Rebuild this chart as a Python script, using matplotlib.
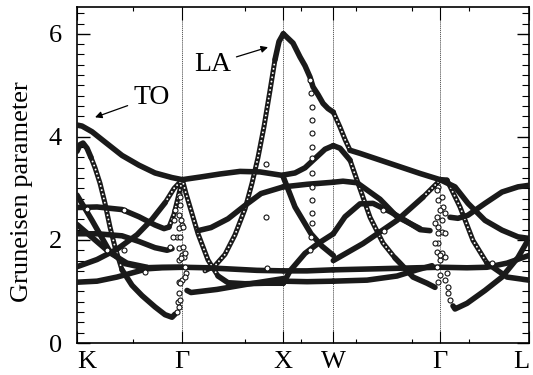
import matplotlib
matplotlib.use("Agg")
import matplotlib.pyplot as plt

plt.rcParams['font.family'] = ['Liberation Serif', 'DejaVu Serif']

# positions of the high-symmetry points along the path
sym_labels = ['K', 'Γ', 'X', 'W', 'Γ', 'L']
sym_pos = [0.0, 1.053, 2.063, 2.563, 3.630, 4.520]
minor_pos = [0.56, 1.68, 2.24, 2.79, 3.35, 3.92]

# --- K -> Gamma ---
kg_to_x = [0, 0.05, 0.15, 0.28, 0.45, 0.62, 0.78, 0.95, 1.053]
kg_to_y = [4.23, 4.21, 4.10, 3.90, 3.64, 3.45, 3.30, 3.21, 3.17]
kg_b_top_x = [0, 0.03, 0.06, 0.10, 0.14]
kg_b_top_y = [3.72, 3.85, 3.88, 3.78, 3.60]
kg_b_fall_x = [0.14, 0.18, 0.23, 0.28, 0.33, 0.38, 0.45]
kg_b_fall_y = [3.60, 3.40, 3.10, 2.71, 2.25, 1.86, 1.42]
kg_b_low_x = [0.45, 0.55, 0.65, 0.78, 0.88, 0.95, 0.98]
kg_b_low_y = [1.42, 1.12, 0.92, 0.70, 0.55, 0.50, 0.56]
kg_c_x = [0, 0.2, 0.45, 0.62, 0.78, 0.87, 0.92]
kg_c_y = [2.63, 2.64, 2.59, 2.45, 2.29, 2.22, 2.25]
kg_c_up_x = [0.92, 0.97, 1.02, 1.053]
kg_c_up_y = [2.25, 2.50, 2.90, 3.17]
kg_d_x = [0, 0.2, 0.45, 0.62, 0.78, 0.90, 0.95]
kg_d_y = [2.12, 2.12, 2.08, 1.97, 1.85, 1.80, 1.83]
kg_e_x = [0, 0.15, 0.32, 0.48, 0.67, 0.85, 1.053]
kg_e_y = [2.87, 2.38, 1.80, 1.54, 1.46, 1.47, 1.47]
kg_f_x = [0, 0.15, 0.33, 0.50, 0.70]
kg_f_y = [2.30, 2.05, 1.75, 1.55, 1.47]
kg_g_x = [0, 0.2, 0.4, 0.6, 0.75, 0.88]
kg_g_y = [1.48, 1.62, 1.82, 2.10, 2.40, 2.72]
kg_g_up_x = [0.88, 0.97, 1.053]
kg_g_up_y = [2.72, 3.00, 3.17]
kg_h_x = [0, 0.2, 0.4, 0.55, 0.7, 0.85, 1.053]
kg_h_y = [1.18, 1.20, 1.28, 1.36, 1.44, 1.46, 1.47]

# --- Gamma -> X ---
gx_top_x = [1.053, 1.23, 1.43, 1.63, 1.83, 2.063]
gx_top_y = [3.17, 3.22, 3.28, 3.33, 3.32, 3.25]
gx_rise_x = [1.21, 1.34, 1.51, 1.68, 1.84, 2.063]
gx_rise_y = [2.18, 2.24, 2.41, 2.67, 2.90, 3.03]
gx_la_x = [1.28, 1.38, 1.48, 1.58, 1.68, 1.75, 1.81, 1.87, 1.93, 1.98]
gx_la_y = [1.40, 1.50, 1.72, 2.10, 2.60, 3.10, 3.60, 4.20, 4.90, 5.50]
gx_la_top_x = [1.98, 2.02, 2.063]
gx_la_top_y = [5.50, 5.85, 6.00]
gx_desc_x = [1.053, 1.09, 1.13, 1.21, 1.31, 1.41]
gx_desc_y = [3.17, 2.90, 2.64, 2.12, 1.61, 1.30]
gx_desc_flat_x = [1.41, 1.51, 1.68, 1.88, 2.063]
gx_desc_flat_y = [1.30, 1.17, 1.15, 1.16, 1.16]
gx_flat_x = [1.053, 1.3, 1.6, 1.8, 2.063]
gx_flat_y = [1.47, 1.46, 1.43, 1.41, 1.40]
gx_low_x = [1.10, 1.14, 1.4, 1.7, 2.063]
gx_low_y = [1.02, 0.98, 1.04, 1.14, 1.25]

# --- X -> W ---
xw_la_x = [2.063, 2.16, 2.23, 2.28, 2.33, 2.36, 2.41, 2.46, 2.51, 2.563]
xw_la_y = [6.00, 5.82, 5.55, 5.38, 5.16, 4.97, 4.82, 4.65, 4.55, 4.48]
xw_up_x = [2.063, 2.18, 2.28, 2.38, 2.48, 2.563]
xw_up_y = [3.26, 3.30, 3.40, 3.58, 3.76, 3.83]
xw_mid_x = [2.063, 2.3, 2.563]
xw_mid_y = [3.03, 3.08, 3.12]
xw_desc_x = [2.063, 2.18, 2.34, 2.45, 2.563]
xw_desc_y = [3.22, 2.64, 2.12, 1.88, 1.70]
xw_rise_x = [2.063, 2.13, 2.28, 2.41, 2.563]
xw_rise_y = [1.16, 1.40, 1.74, 1.93, 2.12]
xw_flat_x = [2.063, 2.3, 2.563]
xw_flat_y = [1.40, 1.40, 1.42]
xw_low_x = [2.063, 2.3, 2.563]
xw_low_y = [1.20, 1.19, 1.20]

# --- W -> Gamma ---
wg_la_fall_x = [2.563, 2.63, 2.68, 2.73]
wg_la_fall_y = [4.48, 4.19, 3.95, 3.74]
wg_la_x = [2.73, 2.83, 3.03, 3.23, 3.43, 3.63]
wg_la_y = [3.74, 3.68, 3.55, 3.42, 3.29, 3.17]
wg_peak_x = [2.563, 2.63, 2.73]
wg_peak_y = [3.83, 3.78, 3.55]
wg_peak_fall_x = [2.73, 2.80, 2.93, 3.06, 3.18]
wg_peak_fall_y = [3.55, 3.16, 2.44, 1.94, 1.65]
wg_peak_low_x = [3.18, 3.23, 3.36, 3.50, 3.58]
wg_peak_low_y = [1.65, 1.55, 1.28, 1.16, 1.08]
wg_hump_x = [2.563, 2.68, 2.83, 2.96, 3.13, 3.28, 3.43, 3.53]
wg_hump_y = [2.12, 2.45, 2.70, 2.71, 2.55, 2.38, 2.20, 2.18]
wg_mid_x = [2.563, 2.66, 2.80, 3.03, 3.20, 3.43]
wg_mid_y = [3.12, 3.14, 3.11, 2.79, 2.45, 2.22]
wg_rise_x = [2.563, 2.86, 3.20, 3.46]
wg_rise_y = [1.60, 1.93, 2.38, 2.83]
wg_rise_up_x = [3.46, 3.60, 3.63]
wg_rise_up_y = [2.83, 3.10, 3.17]
wg_flat_x = [2.563, 3.0, 3.4, 3.63]
wg_flat_y = [1.42, 1.44, 1.46, 1.47]
wg_low_x = [2.563, 2.9, 3.2, 3.4, 3.55]
wg_low_y = [1.20, 1.22, 1.30, 1.42, 1.50]

# --- Gamma -> L ---
gl_a_x = [3.63, 3.78, 3.91, 4.08, 4.25, 4.41, 4.52]
gl_a_y = [3.17, 3.03, 2.71, 2.38, 2.19, 2.06, 2.03]
gl_b_x = [3.73, 3.81, 3.91, 4.08, 4.25, 4.41, 4.52]
gl_b_y = [2.44, 2.42, 2.48, 2.71, 2.93, 3.03, 3.06]
gl_c_x = [3.63, 3.70]
gl_c_y = [3.17, 3.16]
gl_c_fall_x = [3.70, 3.83, 3.96, 4.10]
gl_c_fall_y = [3.16, 2.64, 1.99, 1.55]
gl_c_low_x = [4.10, 4.30, 4.52]
gl_c_low_y = [1.55, 1.28, 1.22]
gl_d_x = [3.76, 3.78, 3.90, 4.08, 4.25, 4.41, 4.52]
gl_d_y = [0.72, 0.66, 0.77, 1.02, 1.28, 1.66, 2.03]
gl_flat_x = [3.63, 3.9, 4.1, 4.3, 4.52]
gl_flat_y = [1.47, 1.46, 1.47, 1.55, 1.70]

# isolated q-points where the mode ordering jumps
stray_x = [1.017, 1.033, 0.983, 1.017, 0.967, 1.05, 1.017, 1.00, 1.017, 1.05, 1.067, 1.023,
           1.017, 1.05, 1.017, 1.01, 1.017, 1.00, 1.03, 1.04, 1.06, 1.03, 1.06, 1.08, 1.04,
           1.08, 1.09, 1.08, 1.03, 1.03, 0.93, 0.96,
           3.61, 3.65, 3.66, 3.63, 3.68, 3.65, 3.61, 3.65, 3.68, 3.61, 3.65, 3.68, 3.63,
           3.70, 3.68, 3.71, 3.71, 3.73, 3.60, 3.61, 3.60, 3.58, 3.61, 3.58, 3.60, 3.63,
           3.60, 3.63, 3.61,
           2.33, 2.34, 2.35, 2.35, 2.35, 2.35, 2.35, 2.35, 2.35, 2.35, 2.35, 2.35, 2.34, 2.33,
           1.89, 1.89, 1.90, 3.06, 3.07, 4.15,
           0.10, 0.47, 0.30, 0.47, 0.68]
stray_y = [2.87, 2.67, 2.58, 2.48, 2.38, 2.29, 2.23, 2.05, 1.84, 1.70, 1.66, 1.61,
           1.18, 1.22, 0.97, 0.79, 0.69, 0.60, 2.83, 2.38, 2.25, 2.05, 1.86, 1.74, 1.64,
           1.47, 1.35, 1.28, 1.16, 0.83, 1.86, 2.05,
           3.02, 2.83, 2.64, 2.58, 2.52, 2.38, 2.25, 2.15, 2.13, 1.94, 1.74, 1.66, 1.61,
           1.35, 1.22, 1.08, 0.97, 0.83, 2.96, 2.77, 2.44, 2.33, 2.13, 1.94, 1.76, 1.70,
           1.47, 1.32, 1.18,
           5.10, 4.85, 4.58, 4.32, 4.07, 3.80, 3.59, 3.30, 3.02, 2.77, 2.52, 2.32, 2.05, 1.80,
           3.47, 2.44, 1.45, 2.58, 2.18, 1.55,
           2.61, 2.58, 1.80, 1.80, 1.37]

# flat stretches: q-points overlap into a solid band
solid_bands = [
    (kg_to_x, kg_to_y), (kg_b_top_x, kg_b_top_y), (kg_b_low_x, kg_b_low_y),
    (kg_c_x, kg_c_y), (kg_d_x, kg_d_y), (kg_e_x, kg_e_y), (kg_f_x, kg_f_y),
    (kg_g_x, kg_g_y), (kg_h_x, kg_h_y),
    (gx_top_x, gx_top_y), (gx_rise_x, gx_rise_y), (gx_la_top_x, gx_la_top_y),
    (gx_desc_flat_x, gx_desc_flat_y), (gx_flat_x, gx_flat_y), (gx_low_x, gx_low_y),
    (xw_la_x, xw_la_y), (xw_up_x, xw_up_y), (xw_mid_x, xw_mid_y), (xw_desc_x, xw_desc_y),
    (xw_rise_x, xw_rise_y), (xw_flat_x, xw_flat_y), (xw_low_x, xw_low_y),
    (wg_la_x, wg_la_y), (wg_peak_x, wg_peak_y), (wg_peak_low_x, wg_peak_low_y),
    (wg_hump_x, wg_hump_y), (wg_mid_x, wg_mid_y), (wg_rise_x, wg_rise_y),
    (wg_flat_x, wg_flat_y), (wg_low_x, wg_low_y),
    (gl_a_x, gl_a_y), (gl_b_x, gl_b_y), (gl_c_x, gl_c_y), (gl_c_low_x, gl_c_low_y),
    (gl_d_x, gl_d_y), (gl_flat_x, gl_flat_y),
]
# steep stretches: the open circles separate into a chain
chain_bands = [
    (kg_b_fall_x, kg_b_fall_y), (kg_c_up_x, kg_c_up_y), (kg_g_up_x, kg_g_up_y),
    (gx_la_x, gx_la_y), (gx_desc_x, gx_desc_y), (wg_la_fall_x, wg_la_fall_y),
    (wg_peak_fall_x, wg_peak_fall_y), (wg_rise_up_x, wg_rise_up_y),
    (gl_c_fall_x, gl_c_fall_y),
]

fig = plt.figure(figsize=(5.33, 3.75), dpi=100)
ax = fig.add_axes([0.1445, 0.0853, 0.848, 0.896])

for xs in sym_pos[1:-1]:
    ax.axvline(xs, color='#444444', lw=0.6, ls=(0, (1.5, 1.0)), zorder=1)

for bx, by in solid_bands:
    ax.plot(bx, by, color='#1a1a1a', lw=4.0, solid_capstyle='round',
            solid_joinstyle='round', zorder=3)

for bx, by in chain_bands:
    ax.plot(bx, by, color='#1a1a1a', lw=3.6, solid_capstyle='round',
            solid_joinstyle='round', zorder=2)
    ax.plot(bx, by, color='white', lw=1.4, ls=(0, (0.01, 2.2)),
            dash_capstyle='round', zorder=2.5)

ax.plot(stray_x, stray_y, ls='none', marker='o', ms=3.6, mfc='white',
        mec='#111111', mew=0.8, zorder=4)

ax.annotate('TO', xy=(0.18, 4.38), xytext=(0.56, 4.77), fontsize=20,
            va='center', ha='left',
            arrowprops=dict(arrowstyle='-|>', color='black', lw=0.9,
                            mutation_scale=10, shrinkA=2, shrinkB=0))
ax.annotate('LA', xy=(1.91, 5.74), xytext=(1.17, 5.41), fontsize=20,
            va='center', ha='left',
            arrowprops=dict(arrowstyle='-|>', color='black', lw=0.9,
                            mutation_scale=10, shrinkA=2, shrinkB=0))

ax.set_xlim(sym_pos[0], sym_pos[-1])
ax.set_ylim(0, 6.52)
ax.set_xticks(sym_pos)
ax.set_xticklabels(sym_labels, fontsize=19)
xlabels = ax.get_xticklabels()
xlabels[0].set_ha('left')
xlabels[-1].set_ha('right')
ax.set_xticks(minor_pos, minor=True)
ax.set_yticks([0, 2, 4, 6])
ax.set_yticks([i * 0.2 for i in range(33)], minor=True)
ax.tick_params(axis='y', which='major', labelsize=19, direction='in',
               length=9, width=1.0, left=True, right=True, pad=11)
ax.tick_params(axis='y', which='minor', direction='in', length=5, width=0.8,
               left=True, right=True)
ax.tick_params(axis='x', which='major', direction='in', length=9, width=0.8,
               top=True, bottom=True, pad=6)
ax.tick_params(axis='x', which='minor', direction='in', length=3, width=0.8,
               top=True, bottom=True)
for s in ax.spines.values():
    s.set_linewidth(1.2)
ax.set_ylabel('Gruneisen parameter', fontsize=19)
ax.yaxis.set_label_coords(-0.097, 0.452)

fig.savefig('out.png', dpi=100)
